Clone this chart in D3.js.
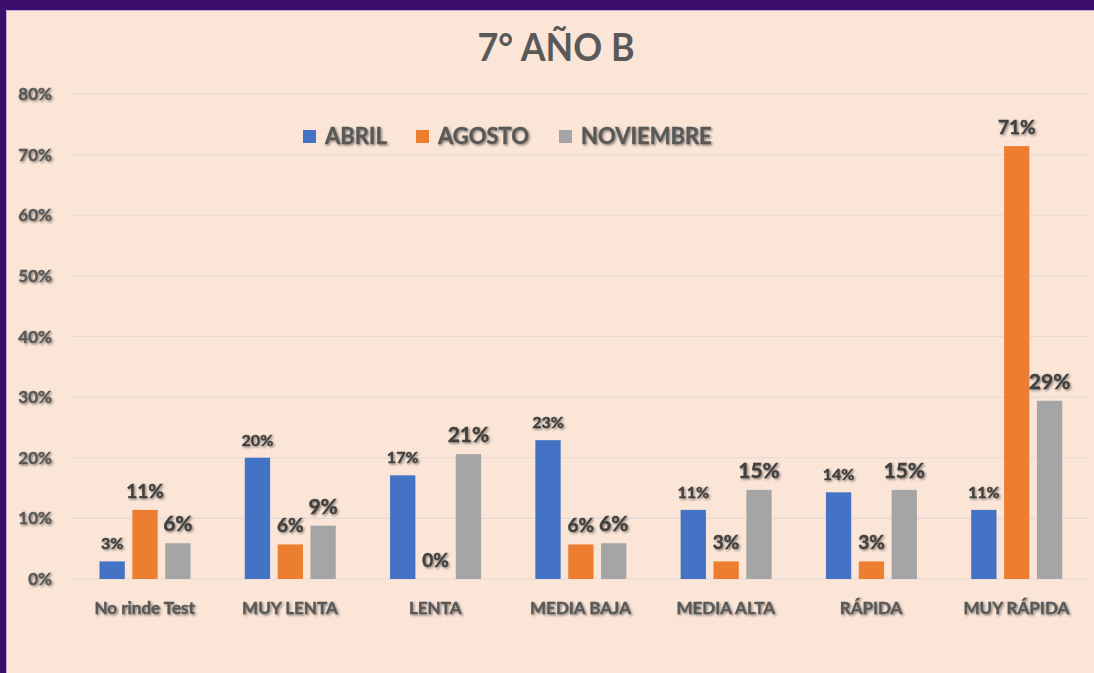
<!DOCTYPE html>
<html>
<head>
<meta charset="utf-8">
<script src="https://cdn.jsdelivr.net/npm/d3@7"></script>
<style>
  html, body { margin: 0; padding: 0; background: #3d0f6c; }
  svg { display: block; }
</style>
</head>
<body>
<div id="chart"></div>
<script>
// Categories and series (percent of students)
const categories = ['No rinde Test', 'MUY LENTA', 'LENTA', 'MEDIA BAJA', 'MEDIA ALTA', 'RÁPIDA', 'MUY RÁPIDA'];
const seriesNames = ['ABRIL', 'AGOSTO', 'NOVIEMBRE'];
const abril = [2.9, 20.0, 17.1, 22.9, 11.4, 14.3, 11.4];
const agosto = [11.4, 5.7, 0, 5.7, 2.9, 2.9, 71.4];
const noviembre = [5.9, 8.8, 20.6, 5.9, 14.7, 14.7, 29.4];
const yTicks = [0, 10, 20, 30, 40, 50, 60, 70, 80];

const colors = ['#4472C4', '#ED7D31', '#A5A5A5'];
const labelSizes = [16, 19, 21];
const W = 1094, H = 673;
const margin = { top: 94, right: 5, bottom: 94, left: 72 };

const seriesValues = [abril, agosto, noviembre];
const rows = categories.map((c, i) => ({
  cat: c,
  vals: seriesNames.map((s, j) => ({ series: s, idx: j, value: seriesValues[j][i] }))
}));

const svg = d3.select('#chart').append('svg')
  .attr('width', W).attr('height', H)
  .style('font-family', 'Lato, "Open Sans", sans-serif');

// text shadow like the office chart
const defs = svg.append('defs');
const f = defs.append('filter').attr('id', 'shadow').attr('x', '-20%').attr('y', '-30%').attr('width', '140%').attr('height', '160%');
f.append('feDropShadow').attr('dx', 1.3).attr('dy', 1.3).attr('stdDeviation', 1)
  .attr('flood-color', '#000').attr('flood-opacity', 0.45);

// purple frame + peach panel
svg.append('rect').attr('width', W).attr('height', H).attr('fill', '#3d0f6c');
svg.append('rect').attr('x', 6).attr('y', 10).attr('width', W - 6).attr('height', H - 10)
  .attr('fill', '#FBE5D6');
svg.append('path').attr('d', `M6.5,${H}V10.5H${W}`).attr('fill', 'none')
  .attr('stroke', '#c9a6d6').attr('stroke-width', 1);

const x0 = d3.scaleBand().domain(categories).range([margin.left, W - margin.right]);
const x1 = d3.scaleBand().domain(seriesNames).range([27.5, 118.5]).paddingInner(0.23);
const y = d3.scaleLinear().domain([0, 80]).range([H - margin.bottom, margin.top]);

// gridlines
svg.append('g').selectAll('line').data(yTicks).join('line')
  .attr('x1', margin.left).attr('x2', W - margin.right - 1)
  .attr('y1', d => y(d)).attr('y2', d => y(d))
  .attr('stroke', '#E3DAD6').attr('stroke-width', 1.2);

// y axis labels
svg.append('g').attr('filter', 'url(#shadow)').selectAll('text').data(yTicks).join('text')
  .attr('x', 52).attr('y', d => y(d)).attr('dy', '0.36em')
  .attr('text-anchor', 'end')
  .attr('font-size', 17).attr('font-weight', 700).attr('fill', '#595959')
  .attr('stroke', '#595959').attr('stroke-width', 0.4)
  .text(d => d + '%');

// bars
const groups = svg.append('g').selectAll('g').data(rows).join('g')
  .attr('transform', d => `translate(${x0(d.cat)},0)`);

groups.selectAll('rect').data(d => d.vals).join('rect')
  .attr('x', d => x1(d.series))
  .attr('y', d => y(d.value))
  .attr('width', x1.bandwidth())
  .attr('height', d => y(0) - y(d.value))
  .attr('fill', d => colors[d.idx]);

// data labels
groups.append('g').attr('filter', 'url(#shadow)').selectAll('text').data(d => d.vals).join('text')
  .attr('x', d => x1(d.series) + x1.bandwidth() / 2)
  .attr('y', d => y(d.value) - 12)
  .attr('text-anchor', 'middle')
  .attr('font-size', d => labelSizes[d.idx]).attr('font-weight', 700).attr('fill', '#404040')
  .attr('stroke', '#404040').attr('stroke-width', 0.4)
  .text(d => Math.round(d.value) + '%');

// category labels
svg.append('g').attr('filter', 'url(#shadow)').selectAll('text').data(categories).join('text')
  .attr('x', d => x0(d) + x0.bandwidth() / 2)
  .attr('y', 614)
  .attr('text-anchor', 'middle')
  .attr('font-size', 17).attr('font-weight', 700).attr('fill', '#595959')
  .attr('stroke', '#595959').attr('stroke-width', 0.4)
  .text(d => d);

// title
svg.append('text')
  .attr('x', 556).attr('y', 61)
  .attr('text-anchor', 'middle')
  .attr('font-size', 39).attr('font-weight', 700).attr('fill', '#595959')
  .attr('textLength', 157).attr('lengthAdjust', 'spacingAndGlyphs')
  .text('7° AÑO B');

// legend
const legendX = [303, 416, 559];
const legend = svg.append('g').selectAll('g').data(seriesNames).join('g')
  .attr('transform', (d, i) => `translate(${legendX[i]},130)`);
legend.append('rect').attr('width', 13).attr('height', 13).attr('fill', (d, i) => colors[i]);
legend.append('text').attr('x', 22).attr('y', 14)
  .attr('font-size', 22).attr('font-weight', 700).attr('fill', '#595959')
  .attr('stroke', '#595959').attr('stroke-width', 0.4)
  .attr('filter', 'url(#shadow)')
  .text(d => d);
</script>
</body>
</html>
